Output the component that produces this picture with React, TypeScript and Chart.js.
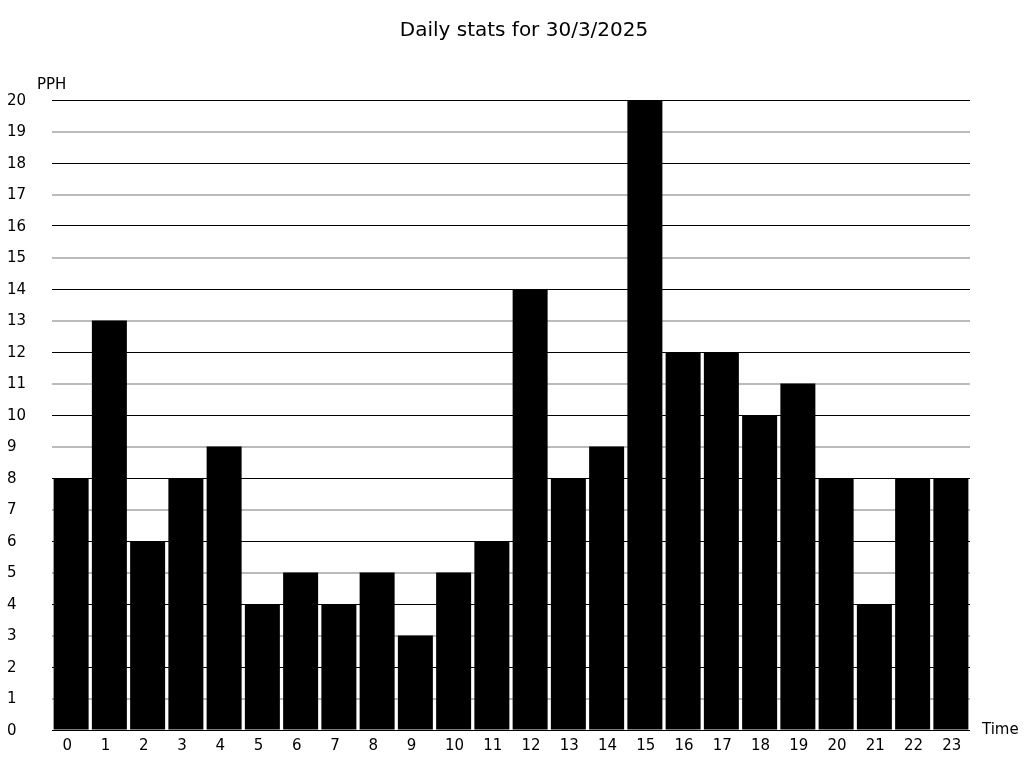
import React, { useEffect, useRef } from "react";
import { Chart, registerables } from "chart.js";

Chart.register(...registerables);

const hours: string[] = ["0","1","2","3","4","5","6","7","8","9","10","11","12","13","14","15","16","17","18","19","20","21","22","23"];
const pph: number[] = [8, 13, 6, 8, 9, 4, 5, 4, 5, 3, 5, 6, 14, 8, 9, 20, 12, 12, 10, 11, 8, 4, 8, 8];
const titleText = "Daily stats for 30/3/2025";
const yLabel = "PPH";
const xLabel = "Time";

const FONT = "'DejaVu Sans', sans-serif";

const labelsPlugin = {
  id: "extraLabels",
  afterDraw(chart: any) {
    const ctx = chart.ctx;
    const area = chart.chartArea;
    ctx.save();
    ctx.fillStyle = "#000";
    ctx.font = `20px ${FONT}`;
    ctx.textAlign = "center";
    ctx.textBaseline = "middle";
    ctx.fillText(titleText, 524, 31);
    ctx.font = `15px ${FONT}`;
    ctx.textAlign = "left";
    ctx.fillText(yLabel, 37, area.top - 15);
    ctx.fillText(xLabel, area.right + 12, area.bottom);
    ctx.restore();
  },
};

export default function App() {
  const ref = useRef<HTMLCanvasElement | null>(null);
  useEffect(() => {
    if (!ref.current) return;
    const chart = new Chart(ref.current, {
      type: "bar",
      data: {
        labels: hours,
        datasets: [
          {
            data: pph,
            backgroundColor: "#000",
            borderWidth: 0,
            barPercentage: 0.915,
            categoryPercentage: 1,
          },
        ],
      },
      options: {
        animation: false,
        responsive: false,
        maintainAspectRatio: false,
        layout: { padding: { top: 100, left: 7, right: 54, bottom: 0 } },
        plugins: {
          legend: { display: false },
          title: { display: false },
          tooltip: { enabled: false },
        },
        scales: {
          x: {
            grid: { display: false, drawTicks: false },
            border: { display: false },
            ticks: {
              color: "#000",
              font: { family: FONT, size: 15 },
              padding: 7,
              maxRotation: 0,
              align: "start",
              labelOffset: -8.7,
            },
            afterFit(scale: any) { scale.height = 38; },
          },
          y: {
            min: 0,
            max: 20,
            border: { display: false },
            grid: {
              drawTicks: false,
              tickLength: 0,
              color: (c: any) => (c.tick && c.tick.value % 2 === 0 ? "#000" : "#bbb"),
              lineWidth: (c: any) => (c.tick && c.tick.value % 2 === 0 ? 1 : 2),
            },
            ticks: {
              stepSize: 1,
              color: "#000",
              crossAlign: "far",
              font: { family: FONT, size: 15 },
              padding: 0,
              labelOffset: 1,
            },
            afterFit(scale: any) { scale.width = 45; },
          },
        },
      },
      plugins: [labelsPlugin],
    });
    return () => chart.destroy();
  }, []);
  return (
    <div style={{ position: "fixed", left: 0, top: 0, width: 1024, height: 768, background: "#fff" }}>
      <canvas ref={ref} width={1024} height={768} style={{ width: 1024, height: 768 }} />
    </div>
  );
}
